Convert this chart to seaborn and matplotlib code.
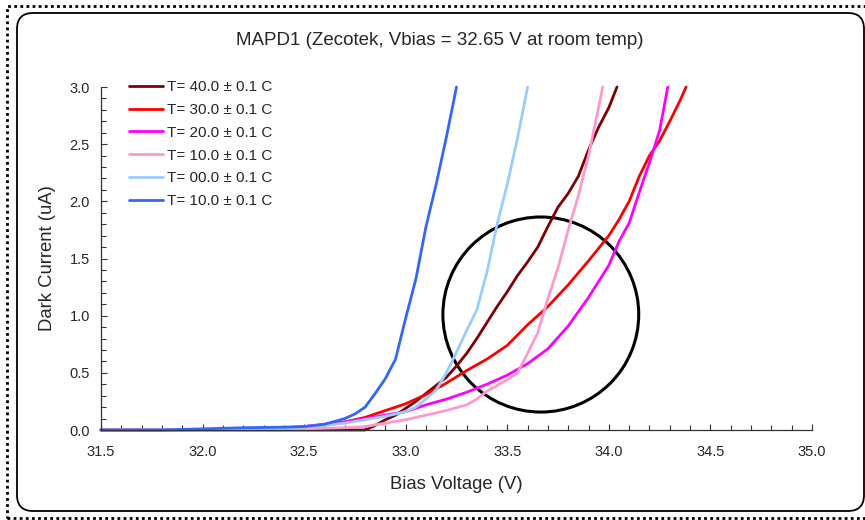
import numpy as np
import pandas as pd
import matplotlib.pyplot as plt
import seaborn as sns
from matplotlib.ticker import MultipleLocator, FormatStrFormatter
from matplotlib.patches import Ellipse, FancyBboxPatch, Rectangle

sns.set_style('white')
plt.rcParams['font.family'] = ['Liberation Sans', 'DejaVu Sans']

# series labels / colours (legend order)
labels = ['T= 40.0 ± 0.1 C', 'T= 30.0 ± 0.1 C', 'T= 20.0 ± 0.1 C',
          'T= 10.0 ± 0.1 C', 'T= 00.0 ± 0.1 C', 'T= 10.0 ± 0.1 C']
colors = ['#800000', '#FF0000', '#FF00FF', '#FF99CC', '#99CCFF', '#3366FF']

# bias voltage (V) and dark current (uA)
v_40 = [31.5, 32.5, 32.8, 32.85, 32.9, 32.95, 33.0, 33.05, 33.1, 33.15, 33.2, 33.25, 33.3, 33.35,
        33.4, 33.45, 33.5, 33.55, 33.6, 33.65, 33.7, 33.75, 33.8, 33.85, 33.9, 33.95, 34.0, 34.04]
i_40 = [0.0, 0.0, 0.0, 0.04, 0.09, 0.13, 0.19, 0.25, 0.32, 0.39, 0.46, 0.56, 0.67, 0.80,
        0.94, 1.08, 1.21, 1.35, 1.47, 1.60, 1.78, 1.95, 2.07, 2.22, 2.45, 2.65, 2.82, 3.0]

v_30 = [31.5, 32.0, 32.3, 32.5, 32.6, 32.7, 32.8, 32.9, 33.0, 33.1, 33.2, 33.3, 33.4, 33.5, 33.6,
        33.7, 33.8, 33.9, 34.0, 34.05, 34.1, 34.15, 34.2, 34.25, 34.3, 34.35, 34.38]
i_30 = [0.0, 0.003, 0.01, 0.025, 0.045, 0.07, 0.11, 0.17, 0.23, 0.31, 0.41, 0.52, 0.62, 0.74, 0.92,
        1.08, 1.27, 1.48, 1.70, 1.84, 2.00, 2.22, 2.40, 2.53, 2.70, 2.88, 3.0]

v_20 = [31.5, 32.0, 32.3, 32.5, 32.6, 32.7, 32.8, 32.9, 33.0, 33.1, 33.2, 33.3, 33.4, 33.5, 33.6,
        33.7, 33.8, 33.9, 34.0, 34.05, 34.1, 34.15, 34.2, 34.25, 34.29]
i_20 = [0.0, 0.003, 0.01, 0.03, 0.05, 0.07, 0.10, 0.13, 0.16, 0.22, 0.27, 0.33, 0.40, 0.48, 0.58,
        0.71, 0.91, 1.16, 1.44, 1.65, 1.81, 2.08, 2.34, 2.62, 3.0]

v_10 = [31.5, 32.0, 32.5, 32.7, 32.8, 32.9, 33.0, 33.1, 33.2, 33.3, 33.35, 33.4, 33.45, 33.5,
        33.55, 33.6, 33.65, 33.7, 33.75, 33.8, 33.85, 33.9, 33.97]
i_10 = [0.0, 0.0, 0.01, 0.02, 0.03, 0.06, 0.09, 0.13, 0.17, 0.22, 0.27, 0.34, 0.39, 0.44,
        0.50, 0.67, 0.85, 1.15, 1.42, 1.75, 2.05, 2.40, 3.0]

v_00 = [31.5, 32.0, 32.3, 32.5, 32.6, 32.7, 32.8, 32.9, 33.0, 33.05, 33.1, 33.15, 33.2, 33.25,
        33.3, 33.35, 33.4, 33.45, 33.5, 33.55, 33.6]
i_00 = [0.0, 0.005, 0.015, 0.025, 0.04, 0.06, 0.09, 0.12, 0.16, 0.20, 0.27, 0.35, 0.50, 0.68,
        0.87, 1.05, 1.38, 1.80, 2.15, 2.55, 3.0]

v_m10 = [31.5, 31.8, 32.0, 32.2, 32.4, 32.5, 32.6, 32.7, 32.75, 32.8, 32.85, 32.9, 32.95, 33.0,
         33.05, 33.1, 33.15, 33.2, 33.25]
i_m10 = [0.0, 0.0, 0.01, 0.02, 0.025, 0.03, 0.05, 0.10, 0.14, 0.20, 0.32, 0.45, 0.62, 0.98,
         1.32, 1.78, 2.15, 2.56, 3.0]

volts = [v_40, v_30, v_20, v_10, v_00, v_m10]
currents = [i_40, i_30, i_20, i_10, i_00, i_m10]

# circle annotation (data units)
circ_center = (33.665, 1.01)
circ_w, circ_h = 0.964, 1.706

fig = plt.figure(figsize=(8.65, 5.2), dpi=100)
ax = fig.add_axes([101/865, 90/520, 711/865, 343/520])

for v, i, lab, col in zip(volts, currents, labels, colors):
    sns.lineplot(x=v, y=i, ax=ax, color=col, label=lab, linewidth=2.0, clip_on=False)

ax.add_patch(Ellipse(circ_center, circ_w, circ_h, fill=False, ec='black', lw=2.2))

ax.set_xlim(31.5, 35.0)
ax.set_ylim(0, 3.0)
ax.xaxis.set_major_locator(MultipleLocator(0.5))
ax.yaxis.set_major_locator(MultipleLocator(0.5))
ax.xaxis.set_minor_locator(MultipleLocator(0.1))
ax.yaxis.set_minor_locator(MultipleLocator(0.1))
ax.xaxis.set_major_formatter(FormatStrFormatter('%.1f'))
ax.yaxis.set_major_formatter(FormatStrFormatter('%.1f'))
ax.tick_params(which='major', direction='in', length=4, width=0.8, color='#333333', labelsize=10.5)
ax.tick_params(axis='x', which='major', pad=11)
ax.tick_params(axis='y', which='major', pad=8)
ax.tick_params(which='minor', direction='in', length=3.5, width=0.8, color='#333333')
ax.xaxis.set_tick_params(which='both', bottom=True)
ax.yaxis.set_tick_params(which='both', left=True)
for s in ['top', 'right']:
    ax.spines[s].set_visible(False)
for s in ['left', 'bottom']:
    ax.spines[s].set_color('#333333')
    ax.spines[s].set_linewidth(0.9)

ax.set_xlabel('Bias Voltage (V)', fontsize=13.3, labelpad=12)
ax.set_ylabel('Dark Current (uA)', fontsize=13.3, labelpad=10)

ax.legend(loc='upper left', bbox_to_anchor=(28/711, 1 + 7/343), frameon=False,
          fontsize=11, handlelength=2.2, handletextpad=0.3, labelspacing=0.58,
          borderpad=0, borderaxespad=0)

fig.text(440/865, 1 - 41/520, 'MAPD1 (Zecotek, Vbias = 32.65 V at room temp)',
         ha='center', va='center', fontsize=13.5)

# outer frames
fig.patches.append(Rectangle((0.07, 0.025), 8.7, 5.11, fill=False, ec='black',
                             lw=2, linestyle=(0, (1, 1.2)), transform=fig.dpi_scale_trans))
fig.patches.append(FancyBboxPatch((0.17, 0.09), 8.47, 4.98,
                                  boxstyle='round,pad=0,rounding_size=0.16',
                                  fill=False, ec='black', lw=1.3, transform=fig.dpi_scale_trans))

fig.savefig('out.png', dpi=100)
